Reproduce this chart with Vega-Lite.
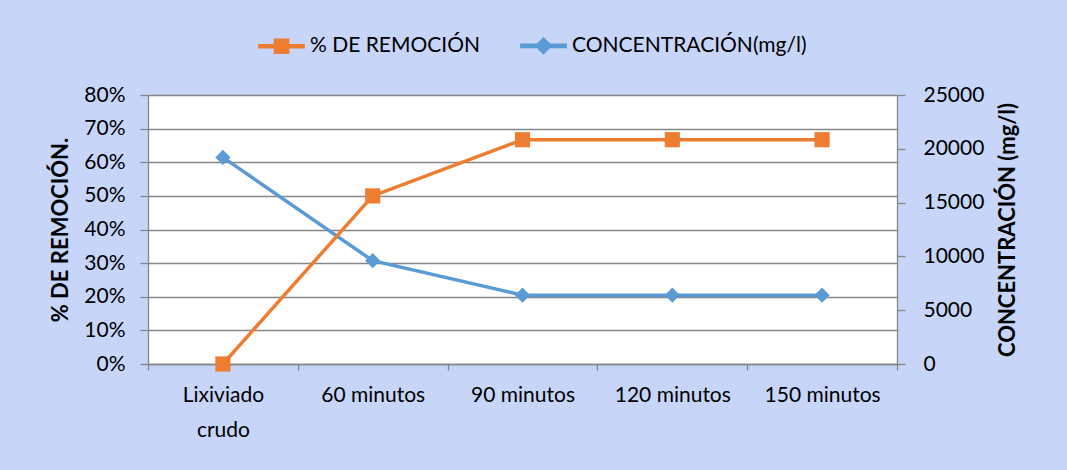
{
  "$schema": "https://vega.github.io/schema/vega-lite/v6.json",
  "width": 749,
  "height": 269,
  "autosize": {"type": "none"},
  "padding": {"left": 148, "top": 95, "right": 170, "bottom": 106},
  "background": "#c6d5f8",
  "data": {
    "values": [
      {"tiempo": "Lixiviado crudo", "remocion": 0.0, "concentracion": 19200},
      {"tiempo": "60 minutos", "remocion": 0.5, "concentracion": 9600},
      {"tiempo": "90 minutos", "remocion": 0.667, "concentracion": 6400},
      {"tiempo": "120 minutos", "remocion": 0.667, "concentracion": 6400},
      {"tiempo": "150 minutos", "remocion": 0.667, "concentracion": 6400}
    ]
  },
  "encoding": {
    "x": {
      "field": "tiempo",
      "type": "nominal",
      "sort": null,
      "title": null,
      "scale": {"type": "band", "paddingInner": 0, "paddingOuter": 0},
      "axis": {
        "tickBand": "extent",
        "labelAngle": 0,
        "tickSize": 6,
        "labelPadding": 14,
        "labelLineHeight": 35,
        "labelExpr": "datum.value == 'Lixiviado crudo' ? ['Lixiviado', 'crudo'] : datum.value"
      }
    }
  },
  "layer": [
    {
      "encoding": {
        "y": {
          "field": "concentracion",
          "type": "quantitative",
          "title": "CONCENTRACIÓN (mg/l)",
          "scale": {"domain": [0, 25000], "nice": false},
          "axis": {
            "orient": "right",
            "values": [0, 5000, 10000, 15000, 20000, 25000],
            "format": "d",
            "grid": false,
            "labelPadding": 18,
            "titleAngle": 270,
            "titleBaseline": "top",
            "titlePadding": 14
          }
        },
        "color": {
          "datum": "CONCENTRACIÓN(mg/l)",
          "scale": {
            "domain": ["% DE REMOCIÓN", "CONCENTRACIÓN(mg/l)"],
            "range": ["#ED7D31", "#5B9BD5"]
          },
          "legend": {
            "orient": "none",
            "legendX": 123,
            "legendY": -60,
            "direction": "horizontal",
            "title": null,
            "padding": 0,
            "labelFont": "Lato",
            "labelFontSize": 21,
            "labelColor": "#000000",
            "labelLimit": 400,
            "symbolSize": 200,
            "labelOffset": 18,
            "columnPadding": 36,
            "encode": {
              "symbols": {
                "update": {
                  "shape": {"signal": "datum.value === '% DE REMOCIÓN' ? 'M-3.2,-0.22H3.2V0.22H-3.2Z M-1,-1H1V1H-1Z' : 'M-3.2,-0.22H3.2V0.22H-3.2Z M0,-1.1L1.1,0L0,1.1L-1.1,0Z'"},
                  "fill": {"signal": "datum.value === '% DE REMOCIÓN' ? '#ED7D31' : '#5B9BD5'"},
                  "stroke": {"value": null},
                  "opacity": {"value": 1}
                }
              }
            }
          }
        }
      },
      "layer": [
        {"mark": {"type": "line", "strokeWidth": 3.5}},
        {"mark": {"type": "point", "shape": "diamond", "filled": true, "size": 230, "opacity": 1}}
      ]
    },
    {
      "encoding": {
        "y": {
          "field": "remocion",
          "type": "quantitative",
          "title": "% DE REMOCIÓN.",
          "scale": {"domain": [0, 0.8], "nice": false},
          "axis": {
            "orient": "left",
            "values": [0, 0.1, 0.2, 0.3, 0.4, 0.5, 0.6, 0.7, 0.8],
            "format": ".0%",
            "grid": true,
            "labelPadding": 15,
            "titlePadding": 11
          }
        },
        "color": {"datum": "% DE REMOCIÓN"}
      },
      "layer": [
        {"mark": {"type": "line", "strokeWidth": 3.5}},
        {"mark": {"type": "point", "shape": "square", "filled": true, "size": 230, "opacity": 1}}
      ]
    }
  ],
  "resolve": {"scale": {"y": "independent"}},
  "config": {
    "view": {"fill": "#ffffff", "stroke": null},
    "axis": {
      "labelFont": "Lato",
      "labelFontSize": 21,
      "labelColor": "#000000",
      "titleFont": "Lato",
      "titleFontSize": 22,
      "titleFontWeight": "bold",
      "titleColor": "#000000",
      "domainColor": "#868686",
      "domainWidth": 1.3,
      "tickColor": "#868686",
      "tickWidth": 1.3,
      "tickSize": 8,
      "labelPadding": 12,
      "gridColor": "#868686",
      "gridWidth": 1.3
    }
  }
}
